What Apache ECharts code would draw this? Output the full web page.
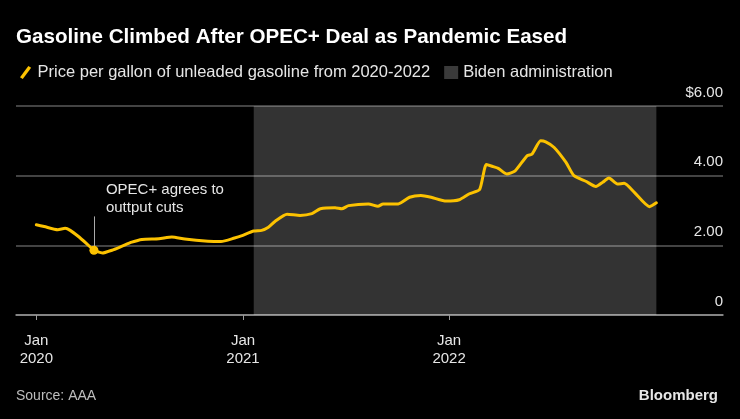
<!DOCTYPE html>
<html><head><meta charset="utf-8">
<script src="https://cdn.jsdelivr.net/npm/echarts@6/dist/echarts.min.js"></script>
<style>html,body{margin:0;padding:0;background:#000}#c{width:740px;height:419px}</style>
</head><body><div id="c"></div>
<script>
// ---- data ----
const dates = [
'2020-01-01','2020-01-15','2020-02-08','2020-02-21','2020-03-01','2020-03-15','2020-03-30','2020-04-12',
'2020-04-27','2020-05-14','2020-05-31','2020-06-18','2020-07-06','2020-08-05','2020-08-28','2020-09-20',
'2020-10-31','2020-11-23','2020-12-17','2020-12-29','2021-01-20','2021-02-03','2021-02-15','2021-02-27',
'2021-03-20','2021-04-12','2021-05-03','2021-05-18','2021-06-13','2021-06-25','2021-07-07','2021-08-11',
'2021-08-28','2021-09-06','2021-10-03','2021-10-23','2021-11-12','2021-11-30','2021-12-27','2022-01-19',
'2022-02-06','2022-02-24','2022-03-08','2022-03-20','2022-03-29','2022-04-13','2022-04-28','2022-05-19',
'2022-05-28','2022-06-12','2022-06-21','2022-07-06','2022-07-27','2022-08-10','2022-08-31','2022-09-18',
'2022-09-30','2022-10-11','2022-10-26','2022-11-07','2022-11-25','2022-12-22','2023-01-03'];
const prices = [
2.59,2.54,2.45,2.49,2.43,2.26,2.05,1.86,
1.78,1.86,1.97,2.09,2.17,2.19,2.24,2.18,
2.12,2.11,2.21,2.27,2.41,2.43,2.52,2.69,
2.89,2.86,2.91,3.05,3.08,3.05,3.14,3.19,
3.12,3.19,3.19,3.38,3.43,3.38,3.27,3.31,
3.48,3.60,4.32,4.26,4.21,4.05,4.14,4.57,
4.62,5.00,4.97,4.81,4.38,4.00,3.84,3.69,
3.81,3.93,3.76,3.78,3.52,3.11,3.22];
const tickDates = ['2020-01-01','2021-01-01','2022-01-01'];
const yTicks = [0, 2, 4, 6];
const bidenStart = '2021-01-20';
const opecDate = '2020-04-12';
const seriesName = 'Price per gallon of unleaded gasoline from 2020-2022';
const shadeName = 'Biden administration';
const xRange = ['2019-11-26', '2023-05-01'];

// ---- helpers ----
const ts = s => { const [y, m, d] = s.split('-').map(Number); return new Date(y, m - 1, d).getTime(); };
const lineData = dates.map((d, i) => [ts(d), prices[i]]);
const opecPrice = prices[dates.indexOf(opecDate)];
const YELLOW = '#fcc200';
const FONT = '"Liberation Sans", Arial, Helvetica, sans-serif';

const chart = echarts.init(document.getElementById('c'), null, {renderer: 'canvas'});
chart.setOption({
  backgroundColor: '#000',
  animation: false,
  textStyle: {fontFamily: FONT},
  title: {
    text: 'Gasoline Climbed After OPEC+ Deal as Pandemic Eased',
    left: 11, top: 22,
    textStyle: {color: '#fff', fontSize: 20.6, fontWeight: 'bold', fontFamily: FONT}
  },
  legend: {
    left: 15, top: 59,
    itemWidth: 14, itemHeight: 13, itemGap: 14,
    textStyle: {color: '#e6e6e6', fontSize: 16.5, fontFamily: FONT},
    data: [
      {name: seriesName, icon: 'path://M0,12 L9,0 L12,2 L3,14 Z'},
      {name: shadeName, icon: 'rect'}
    ],
    selectedMode: false
  },
  grid: {left: 16, right: 17, top: 106, bottom: 104, containLabel: false, outerBoundsMode: 'none'},
  xAxis: {
    type: 'value',
    min: ts(xRange[0]), max: ts(xRange[1]),
    splitLine: {show: false},
    axisLine: {show: true, lineStyle: {color: '#9a9a9a', width: 1.5}},
    axisTick: {show: true, length: 5, lineStyle: {color: '#9a9a9a'}, customValues: tickDates.map(ts)},
    axisLabel: {
      customValues: tickDates.map(ts),
      color: '#e6e6e6', fontSize: 15, lineHeight: 18, margin: 17, fontFamily: FONT,
      formatter: v => 'Jan\n' + new Date(v).getFullYear()
    }
  },
  yAxis: {
    type: 'value', position: 'right',
    min: yTicks[0], max: yTicks[yTicks.length - 1], interval: 2,
    axisLine: {show: false}, axisTick: {show: false},
    splitLine: {show: true, lineStyle: {color: '#5a5a5a', width: 1.5}},
    axisLabel: {
      inside: true, margin: 0, color: '#e6e6e6', fontSize: 15, fontFamily: FONT,
      verticalAlign: 'bottom', padding: [0, 0, 6, 0],
      formatter: v => v === yTicks[yTicks.length - 1] ? '$' + v.toFixed(2) : (v === 0 ? '0' : v.toFixed(2))
    }
  },
  series: [
    {
      name: shadeName, type: 'line', data: [],
      itemStyle: {color: '#3a3a3a'}, lineStyle: {color: '#3a3a3a'}
    },
    {
      name: seriesName, type: 'line', data: lineData,
      symbol: 'none', smooth: 0.2, silent: true,
      itemStyle: {color: YELLOW},
      lineStyle: {color: YELLOW, width: 3, cap: 'round', join: 'round'},
      z: 5,
      markArea: {
        silent: true,
        itemStyle: {color: 'rgba(255,255,255,0.2)'},
        data: [[{xAxis: ts(bidenStart)}, {xAxis: ts(dates[dates.length - 1])}]]
      },
      markLine: {
        silent: true, symbol: 'none',
        lineStyle: {color: '#aaa', width: 1, type: 'solid'},
        label: {show: false},
        data: [[{coord: [ts(opecDate), opecPrice]}, {coord: [ts(opecDate), 2.83]}]]
      },
      markPoint: {
        silent: true,
        data: [
          {coord: [ts(opecDate), opecPrice], symbol: 'circle', symbolSize: 9,
           itemStyle: {color: YELLOW}, label: {show: false}},
          {coord: [ts(opecDate), 2.83], symbol: 'circle', symbolSize: 0,
           label: {show: true, position: [12, -36], align: 'left', verticalAlign: 'top',
             color: '#e6e6e6', fontSize: 15, lineHeight: 18, fontFamily: FONT,
             formatter: 'OPEC+ agrees to\nouttput cuts'}}
        ]
      }
    }
  ],
  graphic: [
    {type: 'text', left: 16, top: 389, style: {text: 'Source: AAA', fill: '#bdbdbd', font: '14px ' + FONT}},
    {type: 'text', right: 22, top: 388, style: {text: 'Bloomberg', fill: '#e6e6e6', font: 'bold 15px ' + FONT}}
  ]
});
</script>
</body></html>
